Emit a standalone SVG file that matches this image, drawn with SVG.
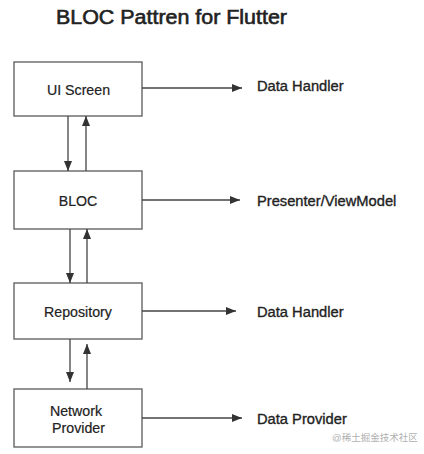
<svg xmlns="http://www.w3.org/2000/svg" width="424" height="454" viewBox="0 0 424 454">
<style>
.box{fill:#fff;stroke:#5a5a5a;stroke-width:1.3}
.ln{stroke:#444;stroke-width:1.3;fill:none}
.t{font-family:"Liberation Sans",Arial,sans-serif;font-size:14.7px;fill:#222;stroke:#222;stroke-width:0.35}
.nt{font-family:"Liberation Sans",Arial,sans-serif;font-size:14.2px;fill:#222;stroke:#222;stroke-width:0.2;text-anchor:middle}
.title{font-family:"Liberation Sans",Arial,sans-serif;font-size:20px;fill:#222;stroke:#222;stroke-width:0.6}
.wm{font-family:"Liberation Sans","Noto Sans CJK SC",sans-serif;font-size:9.5px;fill:#b0b0b0}
</style>
<defs>
<marker id="ah" markerWidth="10" markerHeight="8" refX="10" refY="4" orient="auto" markerUnits="userSpaceOnUse">
<path d="M0,0 L10,4 L0,8 Z" fill="#333"/>
</marker>
</defs>
<rect width="424" height="454" fill="#fff"/>
<text class="title" x="56" y="24" textLength="231" lengthAdjust="spacingAndGlyphs">BLOC Pattren for Flutter</text>
<g id="ui"><rect class="box" x="14" y="62" width="128" height="54"/><text class="nt" x="78.5" y="95">UI Screen</text></g>
<g id="bloc"><rect class="box" x="14" y="171" width="128" height="58"/><text class="nt" x="78" y="206">BLOC</text></g>
<g id="repo"><rect class="box" x="14" y="283" width="128" height="56"/><text class="nt" x="78" y="317">Repository</text></g>
<g id="net"><rect class="box" x="14" y="389" width="128" height="58"/><text class="nt" x="76" y="416">Network</text><text class="nt" x="78.5" y="433">Provider</text></g>
<g id="connectors">
<line class="ln" x1="68" y1="116" x2="68" y2="171" marker-end="url(#ah)"/>
<line class="ln" x1="86" y1="171" x2="86" y2="116" marker-end="url(#ah)"/>
<line class="ln" x1="70" y1="229" x2="70" y2="283" marker-end="url(#ah)"/>
<line class="ln" x1="87" y1="283" x2="87" y2="229" marker-end="url(#ah)"/>
<line class="ln" x1="70" y1="339" x2="70" y2="382" marker-end="url(#ah)"/>
<line class="ln" x1="87" y1="389" x2="87" y2="344" marker-end="url(#ah)"/>
<line class="ln" x1="142" y1="88" x2="242" y2="88" marker-end="url(#ah)"/>
<line class="ln" x1="142" y1="200" x2="240" y2="200" marker-end="url(#ah)"/>
<line class="ln" x1="142" y1="311" x2="236" y2="311" marker-end="url(#ah)"/>
<line class="ln" x1="142" y1="418" x2="242" y2="418" marker-end="url(#ah)"/>
</g>
<g id="labels">
<text class="t" x="257" y="91">Data Handler</text>
<text class="t" x="257" y="206">Presenter/ViewModel</text>
<text class="t" x="257" y="317">Data Handler</text>
<text class="t" x="257" y="424">Data Provider</text>
</g>
<text class="wm" x="332" y="441">@稀土掘金技术社区</text>
</svg>
